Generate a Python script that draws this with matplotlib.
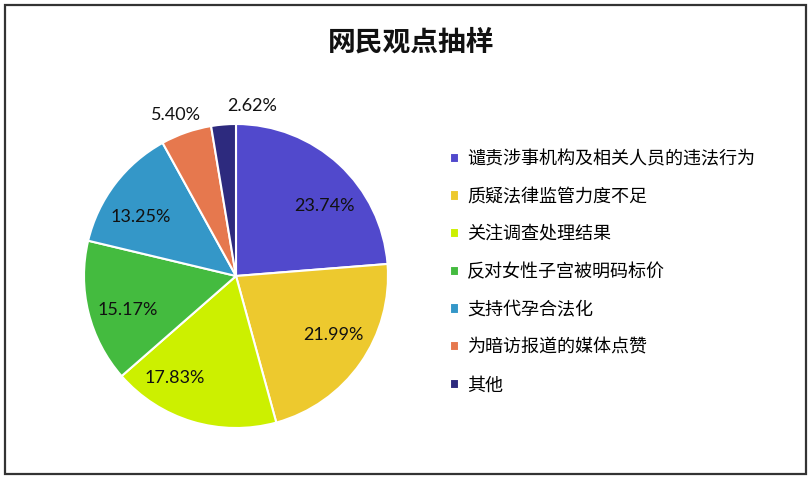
import numpy as np
import matplotlib.pyplot as plt
from matplotlib.patches import Rectangle

plt.rcParams['font.family'] = ['Noto Sans CJK SC', 'DejaVu Sans']

# data
categories = ['谴责涉事机构及相关人员的违法行为', '质疑法律监管力度不足', '关注调查处理结果',
              '反对女性子宫被明码标价', '支持代孕合法化', '为暗访报道的媒体点赞', '其他']
shares = [23.74, 21.99, 17.83, 15.17, 13.25, 5.40, 2.62]
colors = ['#5149CC', '#EDC92E', '#CCF000', '#44BB3F', '#3497C8', '#E6784E', '#2D2A7E']

# label centres in units of the pie radius (excel "best fit" look)
label_xy = [(0.579, 0.461), (0.638, -0.388), (-0.401, -0.671), (-0.711, -0.224),
            (-0.625, 0.388), (-0.395, 1.059), (0.105, 1.118)]

fig = plt.figure(figsize=(8.1, 4.82), dpi=100)
fig.patch.set_facecolor('white')

# border round the chart area
fig.patches.append(Rectangle((5 / 810, 8 / 482), 801 / 810, 469 / 482,
                             transform=fig.transFigure, fill=False,
                             edgecolor='#333333', linewidth=1.6))

fig.text(411 / 810, 1 - 43 / 482, '网民观点抽样', ha='center', va='center',
         fontsize=20, fontweight='bold', color='#111111')

ax = fig.add_axes([(236 - 152) / 810, (482 - 276 - 152) / 482, 304 / 810, 304 / 482])
wedges, _ = ax.pie(shares, colors=colors, startangle=90, counterclock=False,
                   radius=1.0, wedgeprops=dict(edgecolor='white', linewidth=1.5))
ax.set_xlim(-1, 1)
ax.set_ylim(-1, 1)
ax.set_aspect('equal')
ax.axis('off')

for v, (x, y) in zip(shares, label_xy):
    ax.text(x, y, f'{v:.2f}%', ha='center', va='center',
            fontsize=13, family=['Lato', 'DejaVu Sans'], color='#111111')

fig.legend(wedges, categories, loc='upper left',
           bbox_to_anchor=(443 / 810, 1 - 143 / 482), frameon=False,
           fontsize=13, handlelength=0.5, handleheight=0.5,
           handletextpad=0.45, labelspacing=1.09, borderaxespad=0)

fig.savefig('out.png', dpi=100)
